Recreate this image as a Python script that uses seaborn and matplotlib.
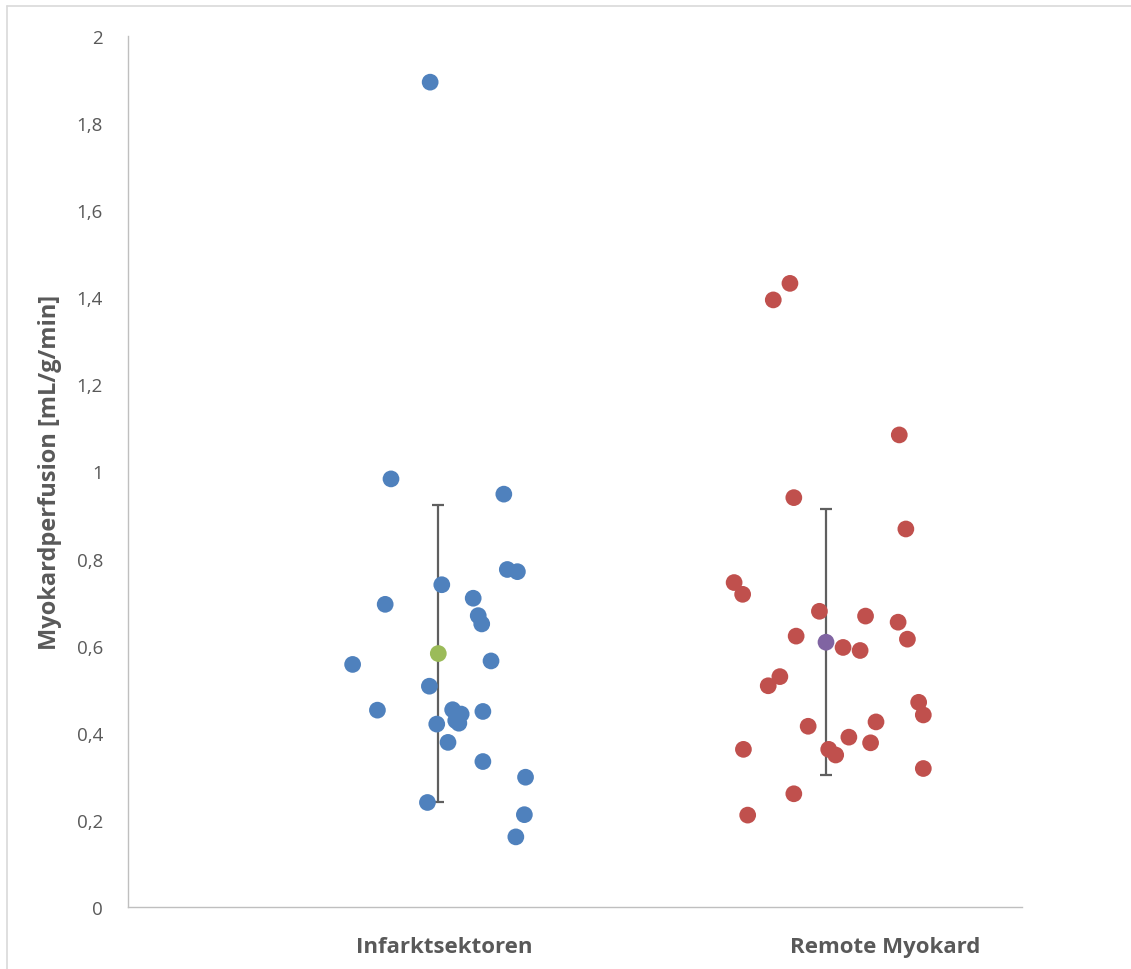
import matplotlib
matplotlib.use("Agg")
import matplotlib.pyplot as plt
from matplotlib.lines import Line2D
import seaborn as sns
import numpy as np
import pandas as pd

# ---------------- data ----------------
categories = ["Infarktsektoren", "Remote Myokard"]

infarkt_values = [1.894, 0.983, 0.948, 0.775, 0.770, 0.740, 0.709, 0.695, 0.669, 0.650,
                  0.565, 0.557, 0.507, 0.453, 0.452, 0.449, 0.443, 0.428, 0.422, 0.420,
                  0.378, 0.334, 0.298, 0.240, 0.212, 0.161]
infarkt_jitter = [-0.021, -0.122, 0.169, 0.178, 0.204, 0.009, 0.090, -0.137, 0.103, 0.112,
                  0.136, -0.221, -0.023, 0.037, -0.157, 0.115, 0.059, 0.045, 0.053, -0.004,
                  0.025, 0.115, 0.225, -0.028, 0.222, 0.200]

remote_values = [1.432, 1.394, 1.084, 0.940, 0.868, 0.745, 0.718, 0.679, 0.668, 0.654,
                 0.615, 0.622, 0.596, 0.589, 0.529, 0.508, 0.470, 0.441, 0.425, 0.415,
                 0.390, 0.377, 0.362, 0.362, 0.349, 0.318, 0.260, 0.211]
remote_jitter = [-0.093, -0.136, 0.189, -0.083, 0.206, -0.237, -0.215, -0.017, 0.102, 0.186,
                 0.210, -0.077, 0.044, 0.088, -0.119, -0.149, 0.239, 0.251, 0.129, -0.046,
                 0.059, 0.115, -0.213, 0.007, 0.025, 0.251, -0.083, -0.202]

group_means = [0.582, 0.608]
group_sd = [0.342, 0.306]

# ---------------- styling ----------------
point_colors = ["#4F81BD", "#C0504D"]
mean_colors = ["#9BBB59", "#8064A2"]
text_grey = "#595959"
axis_grey = "#BFBFBF"

W, H = 1131, 970
fig = plt.figure(figsize=(W / 100, H / 100), dpi=100)
sns.set_style("white")
plt.rcParams["font.family"] = ["Open Sans", "DejaVu Sans"]

ax = fig.add_axes([128 / W, 1 - 908 / H, (1022 - 128) / W, (908 - 37) / H])

centers = [1.0, 2.0]
df = pd.DataFrame({
    "x": [centers[0] + j for j in infarkt_jitter] + [centers[1] + j for j in remote_jitter],
    "y": infarkt_values + remote_values,
    "group": [categories[0]] * len(infarkt_values) + [categories[1]] * len(remote_values),
})

sns.scatterplot(data=df, x="x", y="y", hue="group", palette=point_colors,
                s=145, edgecolor="none", linewidth=0, legend=False, ax=ax, zorder=3)

for c, m, sd, col in zip(centers, group_means, group_sd, mean_colors):
    ax.errorbar([c], [m], yerr=[sd], fmt="none", ecolor="#5F5F5F", elinewidth=1.6,
                capsize=4.5, capthick=1.6, zorder=2)
    ax.scatter([c], [m], s=145, color=col, edgecolor="none", zorder=4)

px_per_unit = (826 - 438.3)
ax.set_xlim(1 - (438.3 - 128) / px_per_unit, 1 + (1022 - 438.3) / px_per_unit)
ax.set_ylim(0, 2)

yt = np.arange(0, 2.01, 0.2)
ax.set_yticks(yt)
ax.set_yticklabels([("%g" % round(v, 1)).replace(".", ",") for v in yt],
                   color=text_grey, fontsize=13.5)
label_pos = [1 + (444 - 438.3) / px_per_unit, 1 + (885 - 438.3) / px_per_unit]
ax.set_xticks(label_pos)
ax.set_xticklabels(categories, color=text_grey, fontsize=16, fontweight="bold")
ax.tick_params(axis="both", length=0)
ax.tick_params(axis="y", pad=18)
ax.tick_params(axis="x", pad=21)

ax.set_xlabel("")
ax.set_ylabel("Myokardperfusion [mL/g/min]", color=text_grey, fontsize=17,
              fontweight="bold")
ax.yaxis.set_label_coords(-(128 - 62) / (1022 - 128), (908 - 472) / (908 - 37))

for side in ["top", "right"]:
    ax.spines[side].set_visible(False)
for side in ["left", "bottom"]:
    ax.spines[side].set_color(axis_grey)
    ax.spines[side].set_linewidth(1.0)
ax.grid(False)

# chart border (top and left edges visible)
fig.add_artist(Line2D([7 / W, 1], [1 - 6.5 / H, 1 - 6.5 / H], color="#D9D9D9", lw=1.2,
                      transform=fig.transFigure))
fig.add_artist(Line2D([7 / W, 7 / W], [0, 1 - 6.5 / H], color="#D9D9D9", lw=1.2,
                      transform=fig.transFigure))

fig.savefig("out.png", dpi=100, facecolor="white")
